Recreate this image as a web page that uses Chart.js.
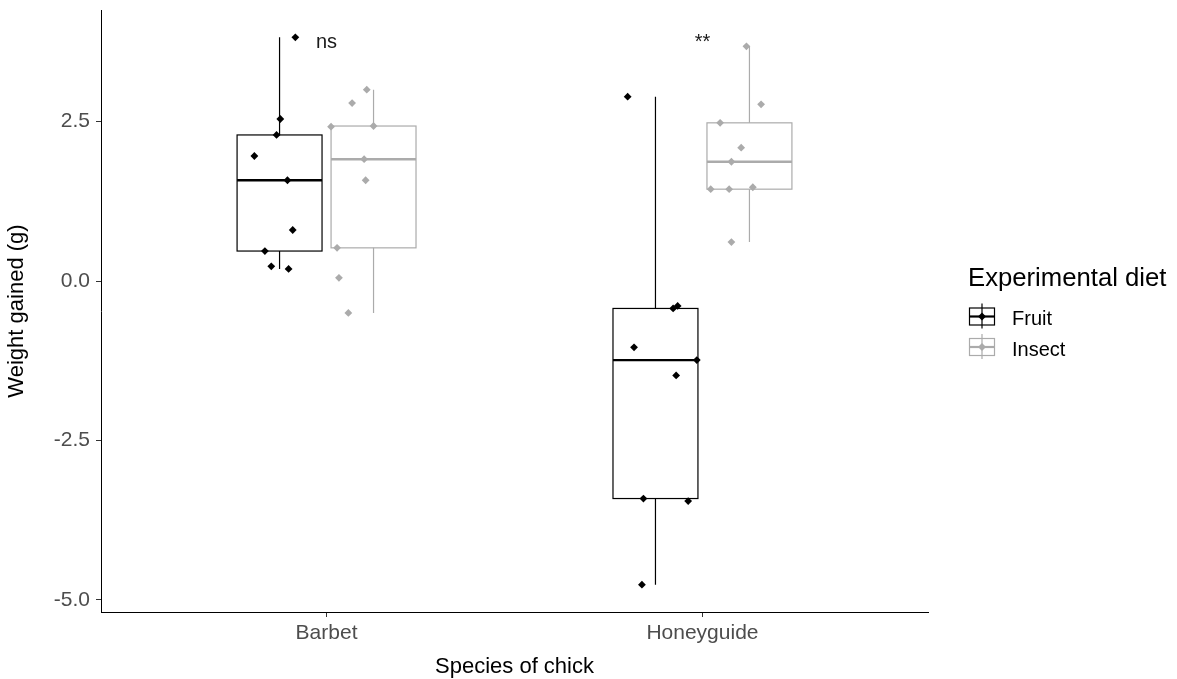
<!DOCTYPE html>
<html>
<head>
<meta charset="utf-8">
<script src="https://cdn.jsdelivr.net/npm/chart.js@4"></script>
<style>
  body { margin: 0; background: #ffffff; }
</style>
</head>
<body>
<canvas id="boxChart" width="1177" height="679"></canvas>
<script>
// data
const categories = ["Barbet", "Honeyguide"];
const diets = ["Fruit", "Insect"];
const yTicks = [-5, -2.5, 0, 2.5];
const signifLabels = ["ns", "**"];
const signifY = 3.66;

// weight gained per chick (g)
const barbetFruit = [3.82, 2.54, 2.29, 1.96, 1.58, 0.80, 0.47, 0.23, 0.19];
const barbetInsect = [3.00, 2.79, 2.42, 2.43, 1.91, 1.58, 0.52, 0.05, -0.50];
const honeyFruit = [2.89, -0.43, -0.39, -1.04, -1.24, -1.48, -3.41, -3.45, -4.76];
const honeyInsect = [3.68, 2.77, 2.48, 2.09, 1.87, 1.44, 1.44, 1.47, 0.61];

// jittered x of each point (category units, Barbet = 1, Honeyguide = 2)
const barbetFruitX = [0.917, 0.877, 0.867, 0.808, 0.896, 0.910, 0.836, 0.853, 0.899];
const barbetInsectX = [1.107, 1.068, 1.012, 1.125, 1.100, 1.104, 1.028, 1.033, 1.058];
const honeyFruitX = [1.801, 1.922, 1.934, 1.818, 1.985, 1.930, 1.843, 1.962, 1.839];
const honeyInsectX = [2.117, 2.156, 2.047, 2.103, 2.077, 2.022, 2.071, 2.134, 2.077];

const fontFamily = "'Liberation Sans', Arial, sans-serif";
const dietColors = ["#000000", "#ABABAB"];
const dodge = [-0.125, 0.125];
const boxHalf = 0.113;

const groups = [
    [barbetFruit, honeyFruit],
    [barbetInsect, honeyInsect]
];
const groupsX = [
    [barbetFruitX, honeyFruitX],
    [barbetInsectX, honeyInsectX]
];

// quantile like R type 7
function quantile(sorted, p) {
    const h = (sorted.length - 1) * p;
    const lo = Math.floor(h);
    const hi = Math.ceil(h);
    return sorted[lo] + (h - lo) * (sorted[hi] - sorted[lo]);
}

function boxStats(values) {
    const s = values.slice().sort((a, b) => a - b);
    const q1 = quantile(s, 0.25);
    const med = quantile(s, 0.5);
    const q3 = quantile(s, 0.75);
    const iqr = q3 - q1;
    const inside = s.filter(v => v >= q1 - 1.5 * iqr && v <= q3 + 1.5 * iqr);
    return { q1: q1, med: med, q3: q3, lo: inside[0], hi: inside[inside.length - 1] };
}

// y range like ggplot (5% expand)
const allValues = [].concat(barbetFruit, barbetInsect, honeyFruit, honeyInsect);
const yMinData = Math.min.apply(null, allValues);
const yMaxData = Math.max.apply(null, allValues);
const yPad = (yMaxData - yMinData) * 0.05;

const datasets = diets.map((diet, d) => {
    const pts = [];
    groups[d].forEach((vals, c) => {
        vals.forEach((v, i) => pts.push({ x: groupsX[d][c][i], y: v }));
    });
    return {
        label: diet,
        data: pts,
        backgroundColor: dietColors[d],
        borderColor: dietColors[d],
        pointStyle: "rectRot",
        pointRadius: 3.9,
        pointBorderWidth: 0,
        showLine: false
    };
});

// boxes and whiskers, under the points
const boxPlugin = {
    id: "boxes",
    beforeDatasetsDraw(chart) {
        const ctx = chart.ctx;
        const xs = chart.scales.x;
        const ys = chart.scales.y;
        ctx.save();
        diets.forEach((diet, d) => {
            groups[d].forEach((vals, c) => {
                const st = boxStats(vals);
                const cx = c + 1 + dodge[d];
                const x0 = xs.getPixelForValue(cx - boxHalf);
                const x1 = xs.getPixelForValue(cx + boxHalf);
                const xm = xs.getPixelForValue(cx);
                ctx.strokeStyle = dietColors[d];
                ctx.lineWidth = 1.2;
                // whiskers
                ctx.beginPath();
                ctx.moveTo(xm, ys.getPixelForValue(st.q3));
                ctx.lineTo(xm, ys.getPixelForValue(st.hi));
                ctx.moveTo(xm, ys.getPixelForValue(st.q1));
                ctx.lineTo(xm, ys.getPixelForValue(st.lo));
                ctx.stroke();
                // box
                const yt = ys.getPixelForValue(st.q3);
                const yb = ys.getPixelForValue(st.q1);
                ctx.strokeRect(x0, yt, x1 - x0, yb - yt);
                // median
                ctx.lineWidth = 2.4;
                ctx.beginPath();
                ctx.moveTo(x0, ys.getPixelForValue(st.med));
                ctx.lineTo(x1, ys.getPixelForValue(st.med));
                ctx.stroke();
            });
        });
        ctx.restore();
    },
    afterDatasetsDraw(chart) {
        const ctx = chart.ctx;
        const xs = chart.scales.x;
        const ys = chart.scales.y;
        ctx.save();
        ctx.fillStyle = "#1A1A1A";
        ctx.font = "20px " + fontFamily;
        ctx.textAlign = "center";
        ctx.textBaseline = "alphabetic";
        signifLabels.forEach((lab, c) => {
            ctx.fillText(lab, xs.getPixelForValue(c + 1), ys.getPixelForValue(signifY));
        });
        ctx.restore();
    }
};

// legend like ggplot on the right
const legendPlugin = {
    id: "sideLegend",
    afterDraw(chart) {
        const ctx = chart.ctx;
        const left = 968;
        ctx.save();
        ctx.fillStyle = "#000000";
        ctx.font = "25.7px " + fontFamily;
        ctx.textAlign = "left";
        ctx.textBaseline = "alphabetic";
        ctx.fillText("Experimental diet", left, 285.5);
        diets.forEach((diet, d) => {
            const cy = 316.5 + d * 30.5;
            const cx = left + 14;
            ctx.strokeStyle = dietColors[d];
            ctx.fillStyle = dietColors[d];
            ctx.lineWidth = 1.2;
            ctx.beginPath();
            ctx.moveTo(cx, cy - 13);
            ctx.lineTo(cx, cy + 12);
            ctx.stroke();
            ctx.strokeRect(cx - 12.5, cy - 8.5, 25, 17);
            ctx.lineWidth = 2.2;
            ctx.beginPath();
            ctx.moveTo(cx - 12.5, cy);
            ctx.lineTo(cx + 12.5, cy);
            ctx.stroke();
            ctx.beginPath();
            ctx.moveTo(cx, cy - 4);
            ctx.lineTo(cx + 4, cy);
            ctx.lineTo(cx, cy + 4);
            ctx.lineTo(cx - 4, cy);
            ctx.closePath();
            ctx.fill();
            ctx.fillStyle = "#000000";
            ctx.font = "20px " + fontFamily;
            ctx.fillText(diet, 1012, cy + 8.5);
        });
        ctx.restore();
    }
};

const chart = new Chart(document.getElementById("boxChart"), {
    type: "scatter",
    data: { datasets: datasets },
    options: {
        responsive: false,
        animation: false,
        layout: { padding: { left: 0, top: 10, right: 249, bottom: 0 } },
        plugins: {
            legend: { display: false },
            tooltip: { enabled: false }
        },
        scales: {
            x: {
                type: "linear",
                min: 0.4,
                max: 2.6,
                afterFit: s => {
                    s.height = 67;
                    s.paddingLeft = 0;
                    s.paddingRight = 0;
                },
                afterBuildTicks: s => { s.ticks = categories.map((c, i) => ({ value: i + 1 })); },
                ticks: {
                    callback: v => categories[v - 1],
                    color: "#4D4D4D",
                    font: { size: 21, family: fontFamily },
                    padding: 4,
                    maxRotation: 0,
                    autoSkip: false
                },
                grid: { drawOnChartArea: false, color: "#333333", tickLength: 5 },
                border: { color: "#000000", width: 1 },
                title: {
                    display: true,
                    text: "Species of chick",
                    color: "#000000",
                    font: { size: 22, family: fontFamily, lineHeight: 1 },
                    padding: { top: 0, bottom: 1 }
                }
            },
            y: {
                type: "linear",
                min: yMinData - yPad,
                max: yMaxData + yPad,
                afterFit: s => {
                    s.width = 101;
                    s.paddingTop = 0;
                    s.paddingBottom = 0;
                },
                afterBuildTicks: s => { s.ticks = yTicks.map(v => ({ value: v })); },
                ticks: {
                    callback: v => v.toFixed(1),
                    color: "#4D4D4D",
                    font: { size: 21, family: fontFamily },
                    padding: 6
                },
                grid: { drawOnChartArea: false, color: "#333333", tickLength: 5 },
                border: { color: "#000000", width: 1 },
                title: {
                    display: true,
                    text: "Weight gained (g)",
                    color: "#000000",
                    font: { size: 22, family: fontFamily },
                    padding: { top: 4, bottom: 4 }
                }
            }
        }
    },
    plugins: [boxPlugin, legendPlugin]
});
</script>
</body>
</html>
